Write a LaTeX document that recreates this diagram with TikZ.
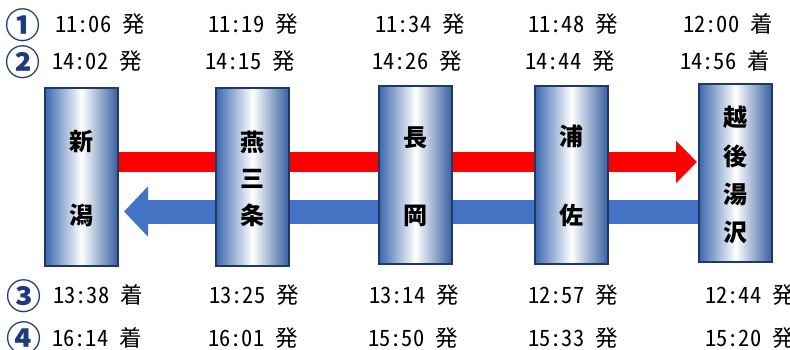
\documentclass[tikz,border=0pt]{standalone}
\usepackage{fontspec}
\newfontfamily\jp{Noto Sans CJK JP}
\newfontfamily\jphw[RawFeature=+hwid]{Noto Sans CJK JP}
\usetikzlibrary{arrows.meta,backgrounds}
\definecolor{navy}{HTML}{203864}
\definecolor{boxblue}{HTML}{3B68AE}
\definecolor{arrblue}{HTML}{4472C4}
\definecolor{arrred}{HTML}{FF0000}
\definecolor{numnavy}{HTML}{1F3A7A}
\tikzset{
  stationbox/.style={draw=navy, line width=2pt, minimum width=73pt, minimum height=178pt,
    inner sep=0pt, left color=boxblue, right color=boxblue!85!black!60!boxblue, middle color=white},
  stname/.style={font=\jp\bfseries\fontsize{24}{24}\selectfont, anchor=base, inner sep=0pt, text=black},
  tm/.style={font=\jphw\fontsize{22.5}{22.5}\selectfont, anchor=base west, inner sep=0pt, text=black},
  num/.style={font=\jp\bfseries\fontsize{35}{35}\selectfont, anchor=center, inner sep=0pt, text=numnavy},
  redarrow/.style={draw=arrred, line width=20pt, -{Triangle[length=21pt,width=41pt]}},
  bluearrow/.style={draw=arrblue, line width=24pt, -{Triangle[length=24pt,width=49pt]}},
}
\begin{document}
\begin{tikzpicture}[x=1pt,y=-1pt]
\useasboundingbox (0,0) rectangle (790,350);
% station boxes
\node[stationbox] (niigata) at (81.5,177) {};
\node[stationbox] (tsubame) at (252.5,177) {};
\node[stationbox] (nagaoka) at (415.5,175) {};
\node[stationbox] (urasa) at (571.5,175) {};
\node[stationbox] (yuzawa) at (735.5,173) {};
% arrows
\coordinate (ry) at (0,162);
\coordinate (by) at (0,211.5);
\begin{scope}[on background layer]
\draw[redarrow] (niigata.east |- ry) -- ([xshift=-1pt]yuzawa.west |- ry);
\draw[bluearrow] (yuzawa.west |- by) -- ([xshift=5pt]niigata.east |- by);
\end{scope}
% station names
\node[stname] (n1) at (81.5,151) {新};
\node[stname] (n2) at (81.5,224) {潟};
\node[stname] (t1) at (252.5,152) {燕};
\node[stname] (t2) at (252.5,187) {三};
\node[stname] (t3) at (252.5,224) {条};
\node[stname] (g1) at (415.5,147) {長};
\node[stname] (g2) at (415.5,224) {岡};
\node[stname] (u1) at (571.5,146) {浦};
\node[stname] (u2) at (571.5,224) {佐};
\node[stname] (y1) at (735.5,127) {越};
\node[stname] (y2) at (735.5,166) {後};
\node[stname] (y3) at (735.5,204) {湯};
\node[stname] (y4) at (735.5,241) {沢};
% circled numbers
\node[num] (c1) at (23,25) {①};
\node[num] (c2) at (23,62) {②};
\node[num] (c3) at (24,296) {③};
\node[num] (c4) at (24,338) {④};
% times
\node[tm] (a1) at (55,33) {11:06 発};
\node[tm] (a2) at (208,33) {11:19 発};
\node[tm] (a3) at (375,33) {11:34 発};
\node[tm] (a4) at (528,33) {11:48 発};
\node[tm] (a5) at (683,33) {12:00 着};
\node[tm] (b1) at (52,70) {14:02 発};
\node[tm] (b2) at (205,70) {14:15 発};
\node[tm] (b3) at (372,70) {14:26 発};
\node[tm] (b4) at (525,70) {14:44 発};
\node[tm] (b5) at (680,70) {14:56 着};
\node[tm] (d1) at (53,303) {13:38 着};
\node[tm] (d2) at (209,303) {13:25 発};
\node[tm] (d3) at (369,303) {13:14 発};
\node[tm] (d4) at (528,303) {12:57 発};
\node[tm] (d5) at (705,303) {12:44 発};
\node[tm] (e1) at (52,346) {16:14 着};
\node[tm] (e2) at (208,346) {16:01 発};
\node[tm] (e3) at (368,346) {15:50 発};
\node[tm] (e4) at (528,346) {15:33 発};
\node[tm] (e5) at (705,346) {15:20 発};
\end{tikzpicture}
\end{document}
